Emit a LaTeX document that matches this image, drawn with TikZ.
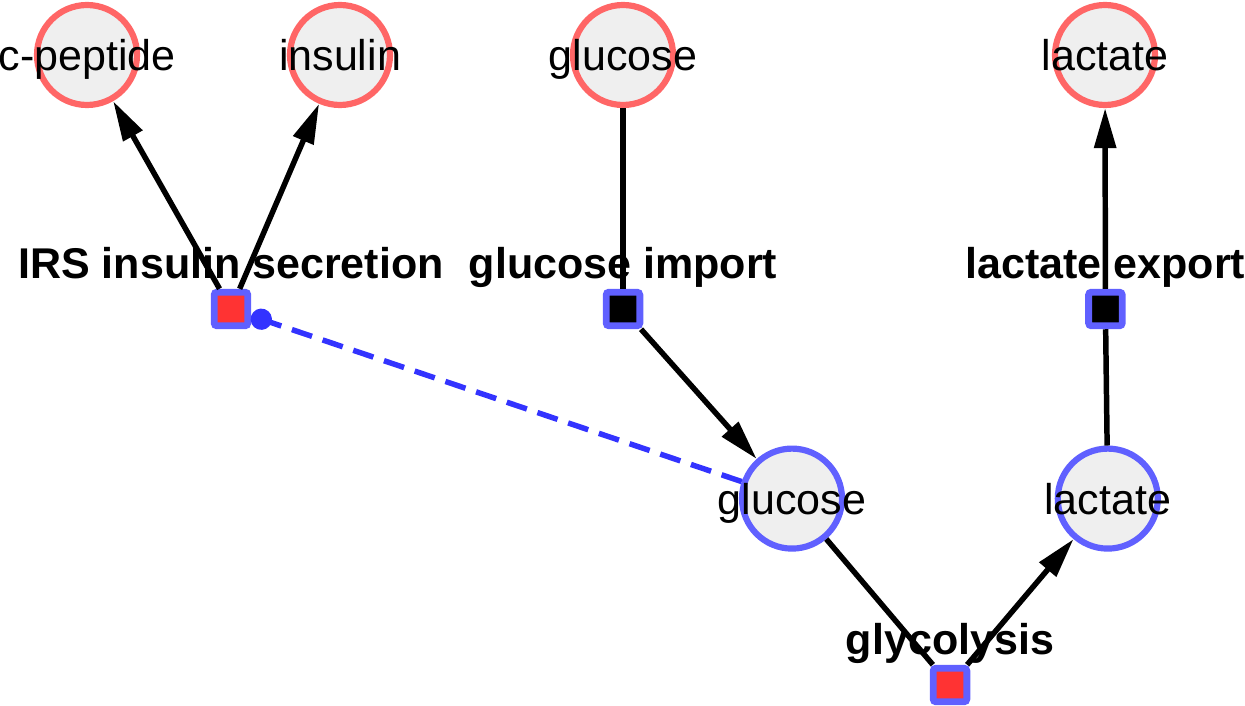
\documentclass[tikz,border=0pt]{standalone}
\usepackage{fontspec}
\setmainfont{Liberation Sans}
\usepackage{tikz}
\usetikzlibrary{arrows.meta}
\definecolor{speciesred}{HTML}{FF6666}
\definecolor{speciesfill}{HTML}{EFEFEF}
\definecolor{compblue}{HTML}{6060FF}
\definecolor{reactionred}{HTML}{FF3333}
\definecolor{modblue}{HTML}{3333FF}
\tikzstyle{species} = [circle, draw=speciesred, fill=speciesfill, line width=4.4pt, minimum size=2.5cm, inner sep=0pt, text height=28pt, text depth=6pt]
\tikzstyle{inner species} = [species, draw=compblue]
\tikzstyle{reaction} = [rectangle, draw=compblue, fill=black, line width=4.9pt, rounded corners=2pt, minimum size=0.84cm, inner sep=0pt]
\tikzstyle{regulated reaction} = [reaction, fill=reactionred]
\tikzstyle{reaction label} = [font=\bfseries, text height=22pt, text depth=6pt, inner sep=0pt]
\tikzstyle{connector} = [line width=3.9pt, -{Triangle[length=1cm, width=0.53cm]}]
\tikzstyle{link} = [line width=3.9pt]
\tikzstyle{modifier} = [modblue, line width=3.9pt, dash pattern=on 0.53cm off 0.28cm, -{Circle[length=0.53cm]}]
\begin{document}
\fontsize{30.6pt}{36pt}\selectfont
\begin{tikzpicture}
        \useasboundingbox (0,0) rectangle (31.125,-17.65);
        \node (cpep) [species] at (2.175,-1.375) {\makebox[0pt]{c-peptide}};
        \node (ins) [species, right of = cpep, xshift = 5.325cm] {\makebox[0pt]{insulin}};
        \node (glc-ext) [species, right of = ins, xshift = 6.075cm] {\makebox[0pt]{glucose}};
        \node (lac-ext) [species, right of = glc-ext, xshift = 11.05cm] {\makebox[0pt]{lactate}};
        \node (irs) [regulated reaction, below of = ins, xshift = -2.725cm, yshift = -5.35cm] {};
        \node (glc-imp) [reaction, below of = glc-ext, yshift = -5.35cm] {};
        \node (lac-exp) [reaction, below of = lac-ext, xshift = 0.01cm, yshift = -5.35cm] {};
        \node (glc) [inner species, below of = glc-imp, xshift = 4.225cm, yshift = -3.74cm] {\makebox[0pt]{glucose}};
        \node (lac) [inner species, below of = lac-exp, xshift = 0.06cm, yshift = -3.74cm] {\makebox[0pt]{lactate}};
        \node (gly) [regulated reaction, below of = glc, xshift = 3.95cm, yshift = -3.66cm] {};
        \node (irs-label) [reaction label, above of = irs, yshift = 0.04cm] {IRS insulin secretion};
        \node (glc-imp-label) [reaction label, above of = glc-imp, yshift = 0.04cm] {glucose import};
        \node (lac-exp-label) [reaction label, above of = lac-exp, yshift = 0.04cm] {lactate export};
        \node (gly-label) [reaction label, above of = gly, yshift = 0.04cm] {glycolysis};
        \draw [connector] (irs) -- (cpep);
        \draw [connector] (irs) -- (ins);
        \draw [link] (glc-ext) -- (glc-imp);
        \draw [connector] (glc-imp) -- (glc);
        \draw [link] (glc) -- (gly);
        \draw [connector] (gly) -- (lac);
        \draw [link] (lac) -- (lac-exp);
        \draw [connector] (lac-exp) -- (lac-ext);
        \draw [modifier] (glc) -- (irs);
    \end{tikzpicture}
\end{document}
